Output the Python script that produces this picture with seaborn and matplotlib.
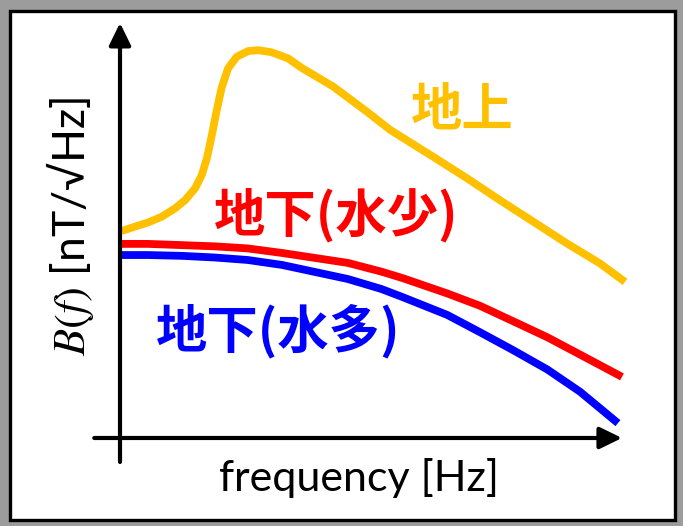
import matplotlib
matplotlib.use("Agg")
import matplotlib.pyplot as plt
from matplotlib.patches import Rectangle
import seaborn as sns

# Sketch of magnetic-field spectra B(f): above ground vs. underground (arbitrary units)
freq_above = [0.3, 3.0, 5.6, 8.3, 10.9, 12.9, 14.9, 16.2, 17.2, 18.2, 19.1, 20.1, 21.4,
              23.1, 25.4, 27.4, 30.0, 33.3, 36.0, 42.2, 48.9, 53.5, 62.0, 68.7, 75.2,
              81.8, 88.5, 95.0, 100.0]
b_above = [50.1, 51.2, 52.2, 53.6, 55.6, 57.6, 60.5, 63.7, 67.7, 73.4, 79.0, 84.7, 89.5,
           92.3, 93.7, 93.9, 93.4, 91.9, 89.6, 85.1, 79.0, 74.6, 68.1, 62.9, 57.6,
           52.4, 47.1, 42.3, 37.8]

freq_dry = [0.0, 5.5, 12.3, 18.8, 25.3, 32.1, 38.6, 45.1, 51.7, 56.0, 64.8, 71.3,
            77.8, 84.6, 91.1, 99.4]
b_dry = [47.0, 47.0, 46.7, 46.4, 45.9, 44.8, 43.6, 42.4, 40.3, 38.7, 35.0, 32.0,
         28.3, 24.4, 20.2, 14.8]

freq_wet = [0.0, 5.5, 12.3, 18.8, 25.3, 32.1, 38.6, 45.1, 51.7, 56.0, 64.8, 71.3,
            77.8, 84.6, 91.1, 98.6]
b_wet = [44.3, 44.3, 44.1, 43.7, 43.1, 41.9, 40.2, 38.5, 36.1, 34.1, 29.8, 25.6,
         21.3, 16.6, 11.2, 3.6]

series_names = ["地上", "地下(水少)", "地下(水多)"]
series_colors = ["#FFC000", "#FF0000", "#0000FF"]

sns.set_theme(style="white")
plt.rcParams["font.family"] = ["Lato", "DejaVu Sans"]
plt.rcParams["mathtext.fontset"] = "stix"

fig = plt.figure(figsize=(6.83, 5.26), dpi=100)
fig.patch.set_facecolor("#9c9c9c")

# white panel with dark frame, kept behind the axes
fig.patches.append(Rectangle((0.0146, 0.0114), 0.9737, 0.9676, transform=fig.transFigure,
                             facecolor="white", edgecolor="black", linewidth=2.4, zorder=-5))

ax = fig.add_axes([0.1757, 0.1673, 0.7394, 0.7852])
ax.set_zorder(2)
ax.set_facecolor("none")
ax.set_xlim(0, 100)
ax.set_ylim(0, 100)
ax.set_axis_off()

for fx, by, c in zip([freq_above, freq_dry, freq_wet], [b_above, b_dry, b_wet], series_colors):
    sns.lineplot(x=fx, y=by, ax=ax, color=c, linewidth=5.6, sort=False,
                 solid_capstyle="butt", solid_joinstyle="round", clip_on=False, zorder=3)

# axes drawn as arrows
arrow = dict(arrowstyle="-|>,head_length=0.45,head_width=0.22", lw=3, color="black",
             shrinkA=0, shrinkB=0, mutation_scale=30)
ax.annotate("", xy=(99.4, 0), xytext=(-5.1, 0), arrowprops=arrow, annotation_clip=False)
ax.annotate("", xy=(0, 100.5), xytext=(0, -5.8), arrowprops=arrow, annotation_clip=False)

cjk = ["Noto Sans CJK JP", "DejaVu Sans"]
label_pos = [(67.7, 79.4), (42.8, 54.0), (31.3, 25.9)]
for name, c, (lx, ly) in zip(series_names, series_colors, label_pos):
    ax.text(lx, ly, name, color=c, fontsize=37, fontweight="bold",
            family=cjk, ha="center", va="center")

ax.text(47.3, -9.6, "frequency [Hz]", fontsize=31, color="black", ha="center", va="center")
ax.text(-10.0, 51.3, r"$B(f)$ [nT/√Hz]", fontsize=32, color="black", rotation=90,
        ha="center", va="center")

fig.savefig("out.png", dpi=100, facecolor=fig.get_facecolor())
